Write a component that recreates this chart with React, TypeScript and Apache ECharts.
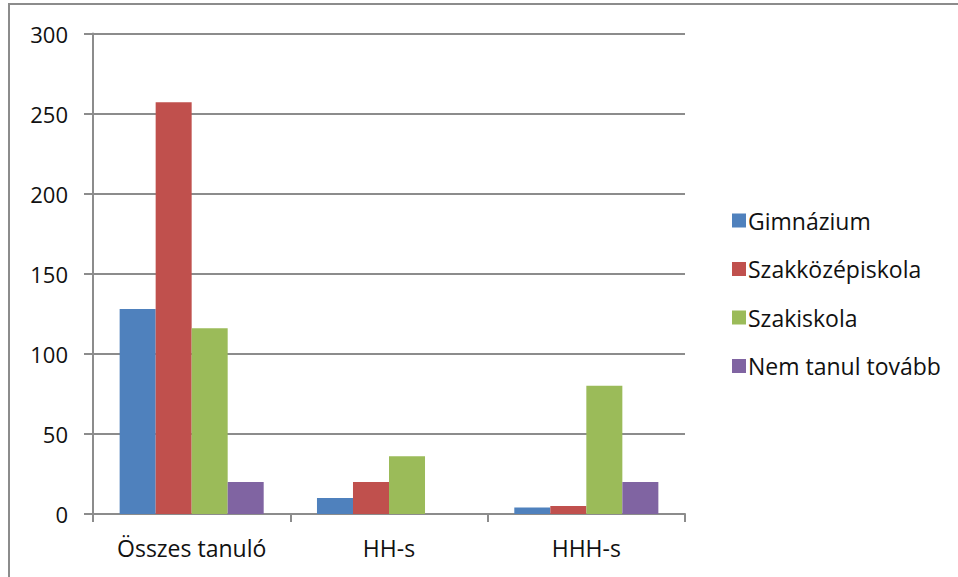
import React, { useEffect, useRef } from "react";
import * as echarts from "echarts";

const categories = ["Összes tanuló", "HH-s", "HHH-s"];
const seriesNames = ["Gimnázium", "Szakközépiskola", "Szakiskola", "Nem tanul tovább"];
const gimnazium = [128, 10, 4];
const szakkozep = [257, 20, 5];
const szakiskola = [116, 36, 80];
const nemTanul = [20, 0, 20];
const colors = ["#4F81BD", "#C0504D", "#9BBB59", "#8064A2"];
const yMin = 0;
const yMax = 300;
const yInterval = 50;

export default function App() {
  const ref = useRef<HTMLDivElement>(null);
  useEffect(() => {
    if (!ref.current) return;
    const chart = echarts.init(ref.current, null, { renderer: "svg" });
    const values = [gimnazium, szakkozep, szakiskola, nemTanul];
    const font = "'Open Sans', sans-serif";
    chart.setOption({
      animation: false,
      backgroundColor: "#ffffff",
      textStyle: { fontFamily: font },
      color: colors,
      grid: { left: 93, right: 273, top: 33.5, bottom: 63, containLabel: false },
      legend: {
        orient: "vertical",
        left: 727,
        top: 203.5,
        itemWidth: 14,
        itemHeight: 14,
        itemGap: 24.5,
        icon: "rect",
        textStyle: { fontSize: 23, lineHeight: 24, color: "#111", fontFamily: font, padding: [0, 0, 0, -3] },
        data: seriesNames,
      },
      xAxis: {
        type: "category",
        data: categories,
        axisLine: { lineStyle: { color: "#8c8c8c", width: 2 } },
        axisTick: { show: true, length: 8, lineStyle: { color: "#8c8c8c", width: 2 } },
        axisLabel: { fontSize: 23, color: "#111", margin: 22, fontFamily: font },
      },
      yAxis: {
        type: "value",
        min: yMin,
        max: yMax,
        interval: yInterval,
        axisLine: { show: true, lineStyle: { color: "#8c8c8c", width: 2 } },
        axisTick: { show: true, length: 9, lineStyle: { color: "#8c8c8c", width: 2 } },
        axisLabel: { fontSize: 22, color: "#111", margin: 25, fontFamily: font },
        splitLine: { lineStyle: { color: "#8c8c8c", width: 2 } },
      },
      graphic: [
        {
          type: "rect",
          shape: { x: 9, y: 4, width: 1000, height: 1000 },
          style: { fill: "none", stroke: "#8c8c8c", lineWidth: 2 },
          silent: true,
        },
      ],
      series: seriesNames.map((name, i) => ({
        name,
        type: "bar",
        data: values[i],
        barGap: "0%",
        barCategoryGap: "27%",
        itemStyle: { color: colors[i] },
      })),
    });
    return () => chart.dispose();
  }, []);
  return (
    <div
      ref={ref}
      style={{ position: "fixed", left: 0, top: 0, width: 958, height: 577 }}
    />
  );
}
